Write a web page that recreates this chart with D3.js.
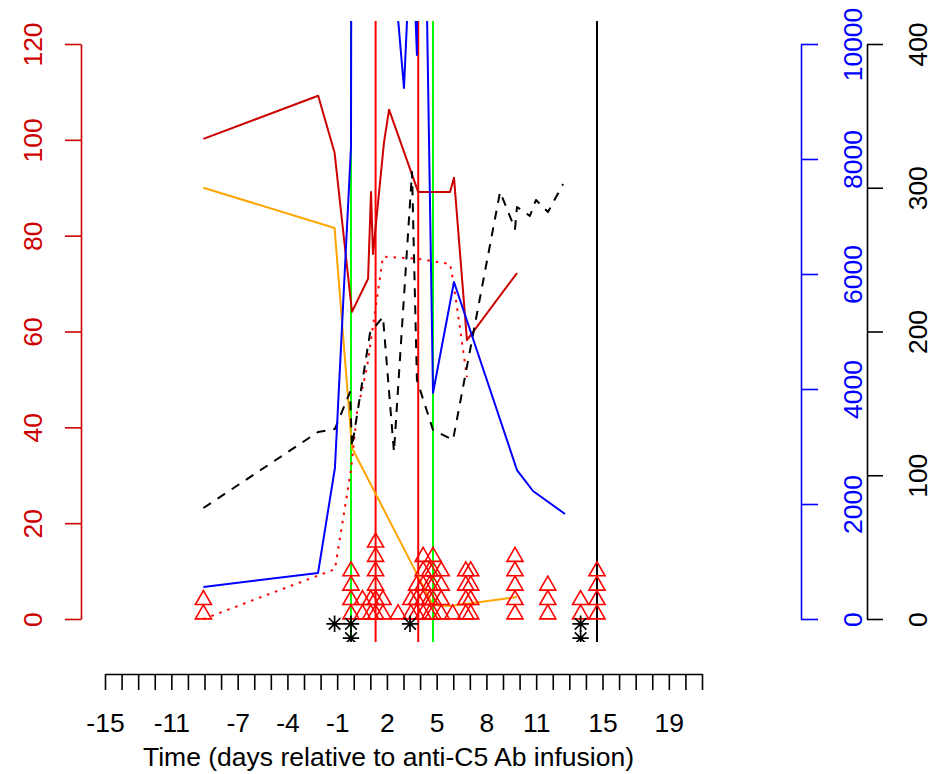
<!DOCTYPE html>
<html><head><meta charset="utf-8">
<script src="https://cdn.jsdelivr.net/npm/d3@7"></script>
<style>
body{margin:0;background:#fff}
svg{display:block}
text{font-family:"Liberation Sans",Arial,Helvetica,sans-serif}
</style>
</head><body>
<svg id="chart" width="944" height="774"></svg>
<script>
// ---------------- DATA ----------------
const xTickValues = [-15,-14,-13,-12,-11,-10,-9,-8,-7,-6,-5,-4,-3,-2,-1,0,1,2,3,4,5,6,7,8,9,10,11,12,13,14,15,16,17,18,19,20,21];
const xTickLabels = [-15,-11,-7,-4,-1,2,5,8,11,15,19];
const leftTicks  = [0,20,40,60,80,100,120];
const blueTicks  = [0,2000,4000,6000,8000,10000];
const blackTicks = [0,100,200,300,400];

// dark red solid (left axis)
const darkRedDays   = [-9,-2,-1,0.06,1.04,1.22,1.34,2.01,2.32,4.1,6.04,6.28,7.07,10.12];
const darkRedValues = [100.2,109.2,97.3,64.1,71.0,89.1,76.2,99.4,106.3,89.1,89.1,92.1,58.2,72.2];

// orange solid (left axis)
const orangeDays   = [-9,-1,0.06,5,6.04,10.12];
const orangeValues = [90.0,81.6,35.7,2.9,2.7,4.6];

// red dotted (left axis)
const redDottedDays   = [-9,-0.98,0,0.37,0.98,1.95,4.02,6.04,6.22,7.07];
const redDottedValues = [0,10.4,31.1,43.2,52.6,75.6,75.2,74.1,70.8,50.5];

// black dashed (right black axis, 0-400)
const blackDays   = [-9,-2.01,-0.98,-0.06,0.06,1.16,1.95,2.62,3.72,4.02,5,6.22,9.09,10.0,10.12,10.91,11.28,12.01,12.93];
const blackValues = [77.2,130.1,132.2,157.9,119.7,199.0,210.1,116.2,311.0,166.3,131.5,124.5,297.1,271.3,286.6,280.4,291.5,283.1,302.6];

// blue solid (blue axis, 0-10000)
const blueDays   = [-9,-2.01,-0.98,0,0.04,1.2,3.23,3.7,4.02,4.06,4.33,5,6.28,10.12,11.1,13.05];
const blueValues = [556,800,2626,8209,16000,16000,9235,12200,9809,16000,16000,3930,5860,2591,2226,1826];

// vertical reference lines (days)
const greenLineDays = [0,5];
const redLineDays   = [1.5,4.1];
const blackLineDays = [15];

// red triangles: day and stacked count
const triangleDays   = [-9,0,0.7,1.2,1.5,1.95,2.87,3.65,4.0,4.4,4.8,5.0,5.5,6.2,7.0,7.3,10.0,12.0,14.0,15.0];
const triangleCounts = [2,4,2,2,6,2,1,2,3,5,4,5,4,1,4,4,5,3,2,4];

// black asterisks
const asteriskDays   = [-1,0,0,3.6,14,14];
const asteriskValues = [-1,-1,-4,-1,-1,-4];

// ---------------- CHART ----------------
const svg = d3.select("#chart");
const FS = 26.5;
const DARKRED = "#CD0000";

const x  = d3.scaleLinear().domain([-15,21]).range([105,695.4]);     // data
const xAxisScale = d3.scaleLinear().domain([-15,21]).range([105,702]); // drawn axis
const yL = d3.scaleLinear().domain([0,120]).range([619,44]);
const yB = d3.scaleLinear().domain([0,10000]).range([619,44]);
const yK = d3.scaleLinear().domain([0,400]).range([619,44]);

svg.append("defs").append("clipPath").attr("id","plotclip")
  .append("rect").attr("x",0).attr("y",21).attr("width",944).attr("height",621);

const plot = svg.append("g").attr("clip-path","url(#plotclip)");

// vertical lines
function vlines(days,color){
  plot.selectAll(null).data(days).enter().append("line")
    .attr("x1",d=>x(d)).attr("x2",d=>x(d))
    .attr("y1",21).attr("y2",642)
    .attr("stroke",color).attr("stroke-width",2);
}
vlines(greenLineDays,"#00FF00");
vlines(redLineDays,"#FF0000");
vlines(blackLineDays,"#000000");

function series(days,values,yScale,color,dash){
  const pts = days.map((d,i)=>[d,values[i]]);
  const line = d3.line().x(p=>x(p[0])).y(p=>yScale(p[1]));
  const p = plot.append("path").datum(pts).attr("d",line)
    .attr("fill","none").attr("stroke",color).attr("stroke-width",2)
    .attr("stroke-linejoin","round");
  if(dash) p.attr("stroke-dasharray",dash);
}
series(orangeDays,orangeValues,yL,"#FFA500");
series(darkRedDays,darkRedValues,yL,DARKRED);
series(redDottedDays,redDottedValues,yL,"#FF0000","2.5,6");
series(blackDays,blackValues,yK,"#000000","9,8");
series(blueDays,blueValues,yB,"#0000FF");

// triangles
const triPts = [];
triangleDays.forEach((d,i)=>{
  for(let k=0;k<triangleCounts[i];k++) triPts.push([d,1+3*k]);
});
const r = 9.3, hw = 8.05;
plot.selectAll(null).data(triPts).enter().append("path")
  .attr("d",p=>{
    const cx=x(p[0]), cy=yL(p[1]);
    return `M${cx},${cy-r}L${cx+hw},${cy+r/2}L${cx-hw},${cy+r/2}Z`;
  })
  .attr("fill","none").attr("stroke","#FF0000").attr("stroke-width",1.6);

// asterisks
const aPts = asteriskDays.map((d,i)=>[d,asteriskValues[i]]);
const a1 = 8.2, a2 = 5.8;
plot.selectAll(null).data(aPts).enter().append("path")
  .attr("d",p=>{
    const cx=x(p[0]), cy=yL(p[1]);
    return `M${cx-a1},${cy}L${cx+a1},${cy}M${cx},${cy-a1}L${cx},${cy+a1}`+
           `M${cx-a2},${cy-a2}L${cx+a2},${cy+a2}M${cx-a2},${cy+a2}L${cx+a2},${cy-a2}`;
  })
  .attr("fill","none").attr("stroke","#000").attr("stroke-width",1.7);

// ---------------- AXES ----------------
function styleAxis(g,color){
  g.selectAll("path.domain").attr("stroke",color).attr("stroke-width",1.6);
  g.selectAll(".tick line").attr("stroke",color).attr("stroke-width",1.6);
  g.selectAll(".tick text").attr("fill",color).style("font-size",FS+"px")
    .style("font-family",'"Liberation Sans",Arial,sans-serif');
}

// left axis
const gL = svg.append("g").attr("transform","translate(81,0)")
  .call(d3.axisLeft(yL).tickValues(leftTicks).tickSize(16).tickSizeOuter(0).tickFormat(d=>String(d)));
styleAxis(gL,DARKRED);
gL.selectAll(".tick text").attr("x",null).attr("dy",null)
  .attr("text-anchor","middle").attr("transform","translate(-39,0) rotate(-90)");

// blue axis
const gB = svg.append("g").attr("transform","translate(801,0)")
  .call(d3.axisRight(yB).tickValues(blueTicks).tickSize(17).tickSizeOuter(0).tickFormat(d=>String(d)));
styleAxis(gB,"#0000FF");
gB.selectAll(".tick text").attr("x",null).attr("dy",null)
  .attr("text-anchor","middle").attr("transform","translate(61,0) rotate(-90)");

// black axis
const gK = svg.append("g").attr("transform","translate(867,0)")
  .call(d3.axisRight(yK).tickValues(blackTicks).tickSize(16).tickSizeOuter(0).tickFormat(d=>String(d)));
styleAxis(gK,"#000000");
gK.selectAll(".tick text").attr("x",null).attr("dy",null)
  .attr("text-anchor","middle").attr("transform","translate(60,0) rotate(-90)");

// bottom axis
const gX = svg.append("g").attr("transform","translate(0,674)")
  .call(d3.axisBottom(xAxisScale).tickValues(xTickValues).tickSize(16).tickSizeOuter(0)
    .tickFormat(d=>xTickLabels.includes(d)?String(d):""));
styleAxis(gX,"#000000");
gX.selectAll(".tick text").attr("y",58).attr("dy",null).attr("text-anchor","middle");

// x title
svg.append("text").attr("x",388.5).attr("y",766).attr("text-anchor","middle")
  .style("font-size",FS+"px").attr("fill","#000")
  .text("Time (days relative to anti-C5 Ab infusion)");
</script>
</body></html>
